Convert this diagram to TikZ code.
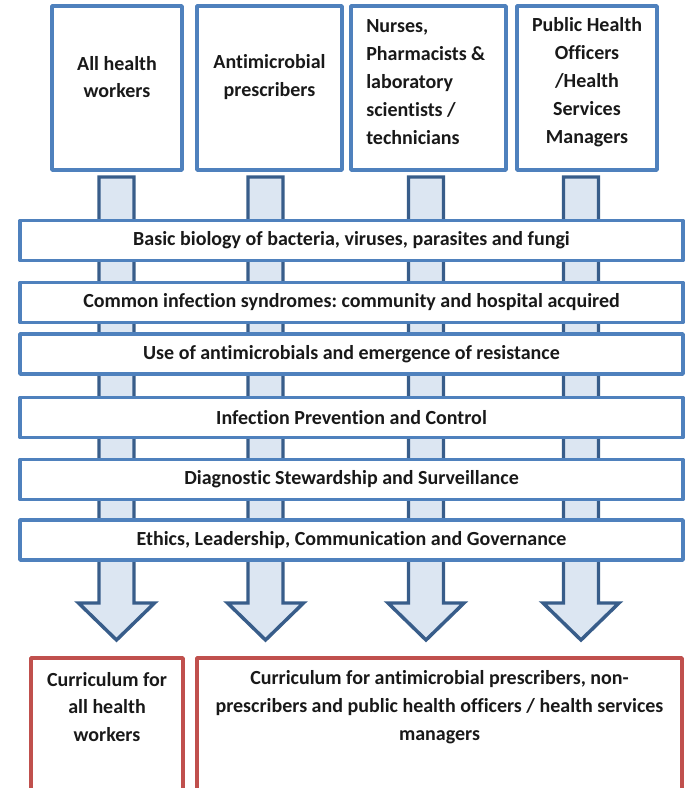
\documentclass[tikz,border=0pt]{standalone}
\usepackage{fontspec}
\setmainfont{Carlito}[Ligatures=CommonOff]
\frenchspacing
\definecolor{boxblue}{RGB}{79,129,189}
\definecolor{arrline}{RGB}{56,93,138}
\definecolor{arrfill}{RGB}{220,230,242}
\definecolor{boxred}{RGB}{192,80,77}
\definecolor{txt}{RGB}{25,25,25}
\begin{document}
\begin{tikzpicture}[x=0.75pt,y=-0.75pt,
  every node/.style={font=\bfseries\fontsize{15}{20.9}\selectfont, text=txt},
  bluebox/.style={draw=boxblue, line width=2.6pt, fill=white, line join=round, inner sep=0pt},
  redbox/.style={draw=boxred, line width=2.6pt, fill=white, line join=round},
  fatarrow/.style={draw=arrline, line width=2.6pt, fill=arrfill, line join=miter},
  lbl/.style={inner sep=0pt, align=center}]
\useasboundingbox (0,0) rectangle (687,788);
% arrows
\foreach \n/\x in {1/116.5,2/265.5,3/426,4/581}{
  \coordinate (a\n) at (\x,177);
  \draw[fatarrow] (a\n) ++(-17.5,0) -- ++(35,0) -- ++(0,426) -- ++(20.5,0)
     -- ++(-38,37) -- ++(-38,-37) -- ++(20.5,0) -- cycle;
}
% top boxes
\node[bluebox, minimum width=130*0.75pt, minimum height=164*0.75pt] (t1) at (117,88) {};
\node[bluebox, minimum width=145*0.75pt, minimum height=164*0.75pt] (t2) at (269.5,88) {};
\node[bluebox, minimum width=155*0.75pt, minimum height=164*0.75pt] (t3) at (428.5,88) {};
\node[bluebox, minimum width=140*0.75pt, minimum height=164*0.75pt] (t4) at (587,88) {};
\node[lbl] (l1) at (117,77) {All health\\workers};
\node[lbl] (l2) at (269.5,77) {Antimicrobial\\prescribers};
\node[lbl, align=left, anchor=west] (l3) at (366,82) {Nurses,\\Pharmacists \&\\laboratory\\scientists /\\technicians};
\node[lbl] (l4) at (587,82) {Public Health\\Officers\\/Health\\Services\\Managers};
% bars
\foreach \n/\y/\t in {
  1/240.5/{Basic biology of bacteria, viruses, parasites and fungi},
  2/302.5/{Common infection syndromes: community and hospital acquired},
  3/354/{Use of antimicrobials and emergence of resistance},
  4/417.5/{Infection Prevention and Control},
  5/479.5/{Diagnostic Stewardship and Surveillance},
  6/540/{Ethics, Leadership, Communication and Governance}}{
  \node[bluebox, minimum width=663*0.75pt, minimum height=40*0.75pt] (b\n) at (351.5,\y) {\t};
}
% bottom boxes
\begin{scope}
\clip (0,0) rectangle (687,788);
\node[redbox, minimum width=152*0.75pt, minimum height=150*0.75pt] (c1) at (107,733) {};
\node[redbox, minimum width=485*0.75pt, minimum height=150*0.75pt] (c2) at (439.5,733) {};
\end{scope}
\node[lbl] (m1) at (107,707) {Curriculum for\\all health\\workers};
\node[lbl] (m2) at (439.5,707) {Curriculum for antimicrobial prescribers, non-\\prescribers and public health officers / health services\\managers};
\end{tikzpicture}
\end{document}
